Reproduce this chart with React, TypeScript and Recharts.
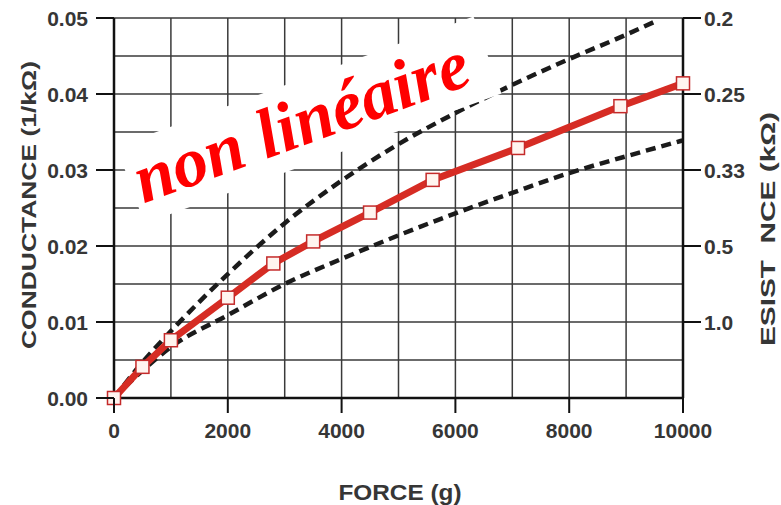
import { LineChart, Line, XAxis, YAxis, CartesianGrid } from 'recharts';

const measuredForce = [0, 500, 1000, 2000, 2800, 3500, 4500, 5600, 7100, 8900, 10000];
const measuredConductance = [0, 0.0041, 0.0076, 0.0132, 0.0177, 0.0206, 0.0244, 0.0287, 0.0329, 0.0384, 0.0414];

const upperForce = [0, 500, 1000, 2000, 3000, 4000, 5000, 6000, 7000, 8000, 9000, 9500];
const upperConductance = [0, 0.0047, 0.0088, 0.0163, 0.023, 0.0286, 0.0334, 0.0375, 0.0412, 0.0446, 0.0478, 0.0495];

const lowerForce = [0, 500, 1000, 2000, 3000, 4000, 5000, 6000, 7000, 8000, 9000, 10000];
const lowerConductance = [0, 0.0036, 0.0067, 0.0109, 0.015, 0.0183, 0.0214, 0.0243, 0.027, 0.0296, 0.0318, 0.0339];

const forceTicks = [0, 1000, 2000, 3000, 4000, 5000, 6000, 7000, 8000, 9000, 10000];
const conductanceTicks = [0, 0.005, 0.01, 0.015, 0.02, 0.025, 0.03, 0.035, 0.04, 0.045, 0.05];
const resistanceTicks = [0.01, 0.02, 0.03, 0.04, 0.05];
const resistanceLabels = ['1.0', '0.5', '0.33', '0.25', '0.2'];

const toRows = (xs: number[], ys: number[]) => xs.map((f, i) => ({ force: f, conductance: ys[i] }));
const measured = toRows(measuredForce, measuredConductance);
const upper = toRows(upperForce, upperConductance);
const lower = toRows(lowerForce, lowerConductance);

const FONT = '"Liberation Sans", Arial, sans-serif';
const TEXT = '#363636';
const GRID = '#3a3a3a';
const AXIS = '#111';

const ForceTick = (props: any) => {
  const { x, y, payload } = props;
  if (payload.value % 2000 !== 0) return <g />;
  const axisY = y - 25;
  return (
    <g>
      <line x1={x} x2={x} y1={axisY} y2={axisY + 15} stroke={AXIS} strokeWidth={2} />
      <text x={x} y={y} dy="0.71em" textAnchor="middle" fontFamily={FONT} fontWeight="bold" fontSize={21} fill={TEXT}>
        {payload.value}
      </text>
    </g>
  );
};

const ConductanceTick = (props: any) => {
  const { x, y, payload } = props;
  if (Math.round(payload.value * 1000) % 10 !== 0) return <g />;
  return (
    <g>
      <line x1={x + 8} x2={x + 26} y1={y} y2={y} stroke={AXIS} strokeWidth={2} />
      <text x={x} y={y} dy="0.36em" textAnchor="end" fontFamily={FONT} fontWeight="bold" fontSize={21} fill={TEXT}>
        {payload.value.toFixed(2)}
      </text>
    </g>
  );
};

const ResistanceTick = (props: any) => {
  const { x, y, payload } = props;
  const i = resistanceTicks.findIndex((t) => Math.abs(t - payload.value) < 1e-9);
  return (
    <g>
      <line x1={x - 21} x2={x - 3} y1={y} y2={y} stroke={AXIS} strokeWidth={2} />
      <text x={x} y={y} dy="0.36em" textAnchor="start" fontFamily={FONT} fontWeight="bold" fontSize={21} fill={TEXT}>
        {resistanceLabels[i]}
      </text>
    </g>
  );
};

const SquareDot = (props: any) => {
  const { cx, cy, index } = props;
  return (
    <rect key={index} x={cx - 6.5} y={cy - 6.5} width={13} height={13} fill="#fff4ef" stroke="#c42a2a" strokeWidth={1.5} />
  );
};

export default function App() {
  return (
    <div style={{ position: 'absolute', left: 0, top: 0, width: 781, height: 505, background: '#fff' }}>
      <LineChart width={781} height={505} margin={{ top: 18, right: 0, bottom: 0, left: 0 }}>
        <CartesianGrid stroke={GRID} strokeWidth={1.5} />
        <XAxis
          dataKey="force"
          type="number"
          domain={[0, 10000]}
          ticks={forceTicks}
          interval={0}
          height={107}
          tickSize={15}
          tickMargin={10}
          tickLine={false}
          tick={ForceTick}
          axisLine={{ stroke: AXIS, strokeWidth: 2.5 }}
        />
        <YAxis
          type="number"
          domain={[0, 0.05]}
          ticks={conductanceTicks}
          interval={0}
          width={114}
          tickSize={18}
          tickMargin={8}
          tickLine={false}
          tick={ConductanceTick}
          axisLine={{ stroke: AXIS, strokeWidth: 2.5 }}
        />
        <YAxis
          yAxisId="r"
          orientation="right"
          type="number"
          domain={[0, 0.05]}
          ticks={resistanceTicks}
          interval={0}
          width={98}
          tickSize={18}
          tickMargin={3}
          tickLine={false}
          tick={ResistanceTick}
          axisLine={{ stroke: AXIS, strokeWidth: 2.5 }}
        />
        <Line data={upper} dataKey="conductance" type="monotone" stroke="#1b1b1b" strokeWidth={4.5} strokeDasharray="10 6" dot={false} isAnimationActive={false} />
        <Line yAxisId="r" data={lower} dataKey="conductance" type="monotone" stroke="#1b1b1b" strokeWidth={4.5} strokeDasharray="10 6" dot={false} isAnimationActive={false} />
        <Line data={measured} dataKey="conductance" stroke="#d62c24" strokeWidth={7} dot={SquareDot} isAnimationActive={false} />
      </LineChart>
      <svg width={781} height={505} style={{ position: 'absolute', left: 0, top: 0, pointerEvents: 'none' }}>
        <text transform="translate(28,205) rotate(-90)" textAnchor="middle" dominantBaseline="central" fontFamily={FONT} fontWeight="bold" fontSize={21} fill={TEXT} textLength={288} lengthAdjust="spacingAndGlyphs">
          CONDUCTANCE (1/kΩ)
        </text>
        <text transform="translate(768,229) rotate(-90)" textAnchor="middle" dominantBaseline="central" fontFamily={FONT} fontWeight="bold" fontSize={20} fill={TEXT} textLength={234} lengthAdjust="spacingAndGlyphs">
          {'ESIST\u00a0\u00a0NCE (kΩ)'}
        </text>
        <text x={400} y={492} textAnchor="middle" dominantBaseline="central" fontFamily={FONT} fontWeight="bold" fontSize={22} fill={TEXT} textLength={123} lengthAdjust="spacingAndGlyphs">
          FORCE (g)
        </text>
        <g transform="translate(309,120) rotate(-20)">
          <rect x={-190} y={-41} width={380} height={82} fill="#fff" />
          <text x={-8} y={22} textAnchor="middle" fontFamily='"Liberation Serif", "Times New Roman", serif' fontWeight="bold" fontStyle="italic" fontSize={70} fill="#ff0000">
            non linéaire
          </text>
        </g>
      </svg>
    </div>
  );
}
